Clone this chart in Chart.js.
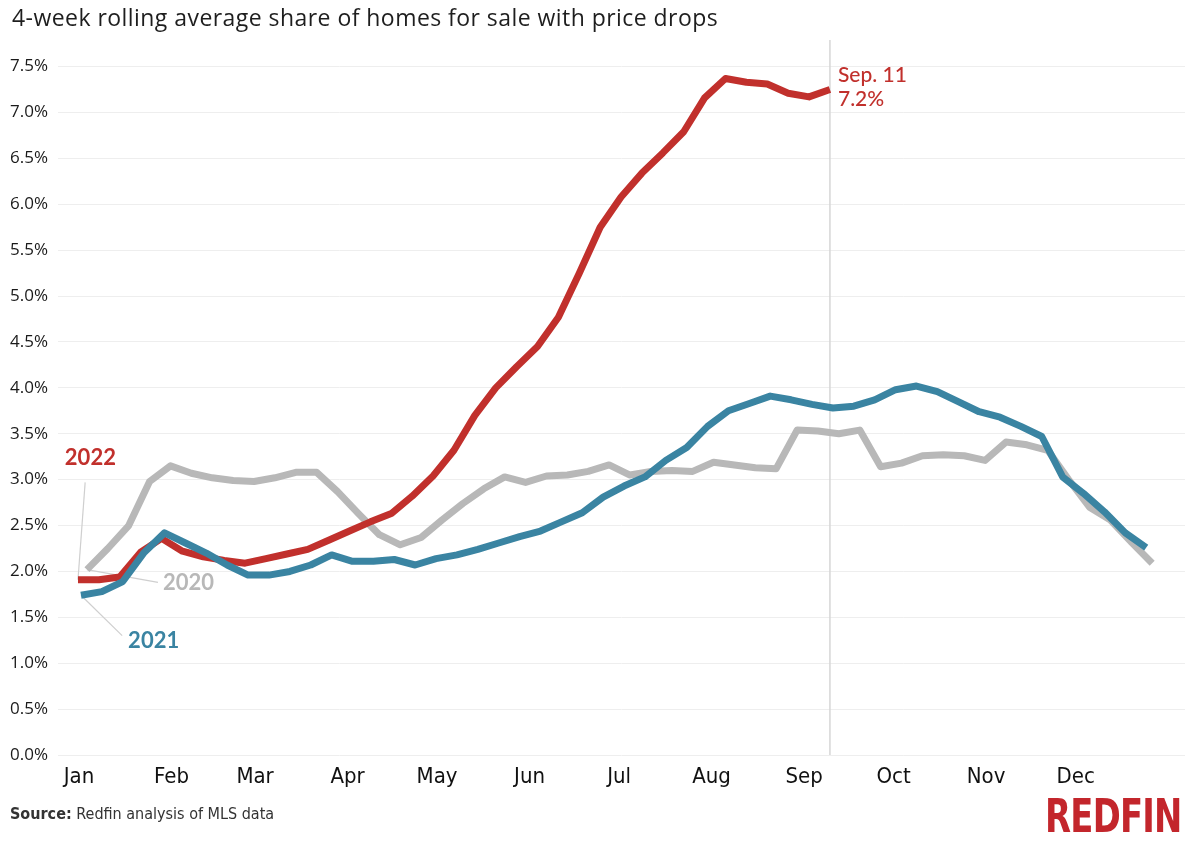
<!DOCTYPE html>
<html>
<head>
<meta charset="utf-8">
<script src="https://cdn.jsdelivr.net/npm/chart.js@4.4.0/dist/chart.umd.min.js"></script>
<style>
  html, body { margin: 0; padding: 0; background: #fff; }
  #wrap { position: relative; width: 1200px; height: 850px; overflow: hidden; }
  #chart { position: absolute; left: 0; top: 0; }
  #title { position: absolute; left: 12px; top: 1px; font-family: "Open Sans", Roboto, sans-serif; font-size: 23px; letter-spacing: 0.45px; line-height: 32px; color: #1e1e1e; white-space: nowrap; }
  #source { position: absolute; left: 10px; top: 803px; font-family: "Liberation Sans Narrow", "DejaVu Sans Condensed", Roboto, sans-serif; font-size: 16px; line-height: 22px; color: #333; white-space: nowrap; }
  #source b { font-weight: 700; }
  #logo { position: absolute; right: 18px; top: 791px; font-family: "Liberation Sans Narrow", "DejaVu Sans Condensed", Roboto, sans-serif; font-weight: 700; font-size: 47px; line-height: 50px; color: #c3262c; letter-spacing: -1px; transform: scaleX(0.8); transform-origin: right center; }
</style>
</head>
<body>
<div id="wrap">
  <canvas id="chart" width="1200" height="850"></canvas>
  <div id="title">4-week rolling average share of homes for sale with price drops</div>
  <div id="source"><b>Source:</b> Redfin analysis of MLS data</div>
  <div id="logo">REDFIN</div>
</div>
<script>
// ---- Data (weekly 4-week rolling averages, % of homes for sale with a price drop) ----
const monthNames = ["Jan","Feb","Mar","Apr","May","Jun","Jul","Aug","Sep","Oct","Nov","Dec"];
const monthStartDays = [0,31,59,90,120,151,181,212,243,273,304,334]; // day of year
const yTickValues = [0,0.5,1,1.5,2,2.5,3,3.5,4,4.5,5,5.5,6,6.5,7,7.5];

// first week-ending Sunday of each year, as day of year (Jan 1 = 0)
const firstDay2020 = 4;  // Jan 5, 2020
const firstDay2021 = 2;  // Jan 3, 2021
const firstDay2022 = 1;  // Jan 2, 2022

const values2022 = [1.91,1.91,1.94,2.21,2.36,2.22,2.16,2.12,2.09,2.14,2.19,2.24,2.34,2.44,2.54,2.63,2.82,3.04,3.32,3.70,4.00,4.23,4.45,4.77,5.25,5.75,6.08,6.34,6.56,6.79,7.16,7.37,7.33,7.31,7.21,7.17,7.25];
const values2021 = [1.74,1.78,1.89,2.20,2.42,2.31,2.20,2.07,1.96,1.96,2.00,2.07,2.18,2.11,2.11,2.13,2.07,2.14,2.18,2.24,2.31,2.38,2.44,2.54,2.64,2.81,2.93,3.03,3.21,3.35,3.58,3.75,3.83,3.91,3.87,3.82,3.78,3.80,3.87,3.98,4.02,3.96,3.85,3.74,3.68,3.58,3.47,3.03,2.85,2.65,2.42,2.26];
const values2020 = [2.02,2.25,2.50,2.98,3.15,3.07,3.02,2.99,2.98,3.02,3.08,3.08,2.87,2.63,2.40,2.29,2.37,2.56,2.74,2.90,3.03,2.97,3.04,3.05,3.09,3.16,3.05,3.09,3.10,3.09,3.19,3.16,3.13,3.12,3.54,3.53,3.50,3.54,3.14,3.18,3.26,3.27,3.26,3.21,3.41,3.38,3.32,3.00,2.70,2.56,2.32,2.09];

const latestDay = 253;      // Sep 11
const latestLabel = "Sep. 11";
const latestValueLabel = "7.2%";

const colors = { y2022: "#c1302c", y2021: "#3a84a2", y2020: "#b8b8b8" };

function toPoints(firstDay, vals) {
  return vals.map((v, i) => ({ x: firstDay + 7 * i, y: v }));
}

const annotationPlugin = {
  id: "annotations",
  beforeDatasetsDraw(chart) {
    const { ctx, chartArea, scales: { x, y } } = chart;
    ctx.save();
    ctx.strokeStyle = "#d6d6d6";
    ctx.lineWidth = 1.5;
    const vx = x.getPixelForValue(latestDay);
    ctx.beginPath();
    ctx.moveTo(vx, chartArea.top);
    ctx.lineTo(vx, chartArea.bottom);
    ctx.stroke();
    ctx.strokeStyle = "#cfcfcf";
    ctx.lineWidth = 1.2;
    const leaders = [
      [[3.4, 2.97], [firstDay2022, values2022[0]]],
      [[27.8, 1.88], [firstDay2020, values2020[0]]],
      [[15.8, 1.30], [firstDay2021, values2021[0]]]
    ];
    leaders.forEach(([a, b]) => {
      ctx.beginPath();
      ctx.moveTo(x.getPixelForValue(a[0]), y.getPixelForValue(a[1]));
      ctx.lineTo(x.getPixelForValue(b[0]), y.getPixelForValue(b[1]));
      ctx.stroke();
    });
    ctx.restore();
  },
  afterDatasetsDraw(chart) {
    const { ctx, scales: { x, y } } = chart;
    ctx.save();
    ctx.textBaseline = "middle";
    ctx.textAlign = "left";
    ctx.font = "bold 22px Lato, Roboto, sans-serif";
    ctx.fillStyle = colors.y2022;
    ctx.fillText("2022", x.getPixelForValue(-3.4), y.getPixelForValue(3.24));
    ctx.fillStyle = colors.y2020;
    ctx.fillText("2020", x.getPixelForValue(29.5), y.getPixelForValue(1.87));
    ctx.fillStyle = colors.y2021;
    ctx.fillText("2021", x.getPixelForValue(17.8), y.getPixelForValue(1.24));
    ctx.font = "500 21px Lato, Roboto, sans-serif";
    ctx.fillStyle = colors.y2022;
    ctx.fillText(latestLabel, x.getPixelForValue(latestDay + 2.7), y.getPixelForValue(7.41));
    ctx.fillText(latestValueLabel, x.getPixelForValue(latestDay + 2.7), y.getPixelForValue(7.14));
    ctx.restore();
  }
};

const lineStyle = { borderWidth: 7, pointRadius: 0, tension: 0, borderJoinStyle: "round", borderCapStyle: "butt", fill: false };

new Chart(document.getElementById("chart"), {
  type: "line",
  data: {
    datasets: [
      Object.assign({ label: "2021", data: toPoints(firstDay2021, values2021), borderColor: colors.y2021 }, lineStyle),
      Object.assign({ label: "2022", data: toPoints(firstDay2022, values2022), borderColor: colors.y2022 }, lineStyle),
      Object.assign({ label: "2020", data: toPoints(firstDay2020, values2020), borderColor: colors.y2020 }, lineStyle)
    ]
  },
  options: {
    responsive: false,
    animation: false,
    layout: { padding: { top: 40, left: 10, right: 15, bottom: 55 } },
    plugins: { legend: { display: false }, tooltip: { enabled: false }, title: { display: false } },
    scales: {
      x: {
        type: "linear",
        min: -5.7,
        max: 372,
        grid: { display: false, drawTicks: false },
        border: { display: false },
        afterBuildTicks: (axis) => { axis.ticks = monthStartDays.map(v => ({ value: v })); },
        afterFit: (axis) => { axis.height = 40; },
        ticks: {
          autoSkip: false,
          maxRotation: 0,
          padding: 9,
          labelOffset: 4,
          color: "#111",
          font: { family: "'Liberation Sans Narrow', 'DejaVu Sans Condensed', Roboto, sans-serif", size: 22 },
          callback: (v, i) => monthNames[i]
        }
      },
      y: {
        min: 0,
        max: 7.79,
        grid: { color: "#eeeeee", lineWidth: 1, drawTicks: false },
        border: { display: false },
        afterBuildTicks: (axis) => { axis.ticks = yTickValues.map(v => ({ value: v })); },
        afterFit: (axis) => { axis.width = 48; },
        ticks: {
          crossAlign: "far",
          padding: 4,
          color: "#1a1a1a",
          font: { family: "'Open Sans', Roboto, sans-serif", size: 17 },
          callback: (v) => Number(v).toFixed(1) + "%"
        }
      }
    }
  },
  plugins: [annotationPlugin]
});
</script>
</body>
</html>
